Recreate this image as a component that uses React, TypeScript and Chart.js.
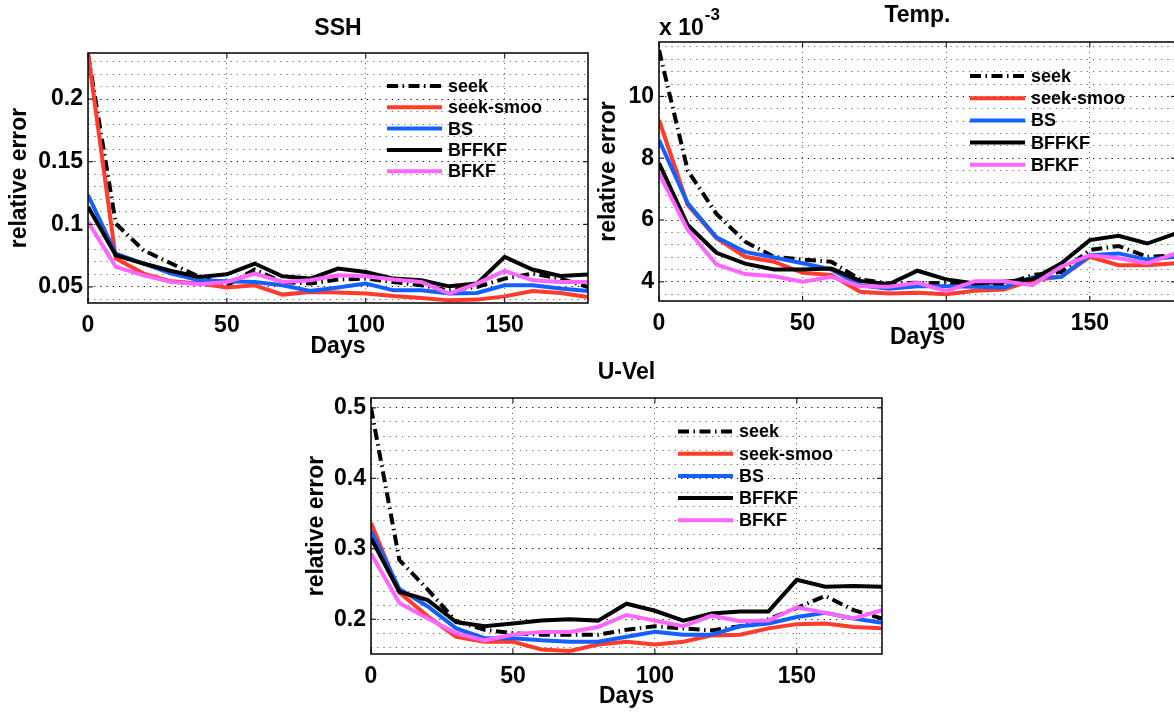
import React, { useEffect, useRef } from 'react';
import { Chart, registerables } from 'chart.js';

Chart.register(...registerables);

// ---------------- data ----------------
const DAYS = [0, 10, 20, 30, 40, 50, 60, 70, 80, 90, 100, 110, 120, 130, 140, 150, 160, 170, 180];
const SERIES_NAMES = ['seek', 'seek-smoo', 'BS', 'BFFKF', 'BFKF'];

const SSH_SEEK = [0.236, 0.1006, 0.0793, 0.0687, 0.058, 0.0513, 0.0639, 0.054, 0.0527, 0.0559, 0.0567, 0.054, 0.0513, 0.0473, 0.05, 0.0567, 0.0607, 0.0567, 0.05];
const SSH_SMOO = [0.2365, 0.0727, 0.0607, 0.0545, 0.0527, 0.0495, 0.0513, 0.0439, 0.046, 0.0455, 0.0447, 0.0427, 0.0412, 0.0393, 0.0399, 0.0425, 0.0468, 0.0452, 0.042];
const SSH_BS = [0.1233, 0.0766, 0.0687, 0.0607, 0.0553, 0.0545, 0.054, 0.0513, 0.0468, 0.0495, 0.0527, 0.0473, 0.0473, 0.0447, 0.0452, 0.0513, 0.0513, 0.0487, 0.0468];
const SSH_BFFKF = [0.114, 0.0753, 0.0687, 0.0628, 0.058, 0.0601, 0.0687, 0.0585, 0.0567, 0.0647, 0.062, 0.0567, 0.0553, 0.0505, 0.0527, 0.074, 0.0639, 0.0588, 0.0599];
const SSH_BFKF = [0.102, 0.066, 0.0593, 0.054, 0.0521, 0.054, 0.0607, 0.054, 0.0553, 0.0593, 0.0585, 0.0559, 0.054, 0.0447, 0.0527, 0.0628, 0.0553, 0.054, 0.054];

// Temp. values in units of 10^-3
const TEMP_SEEK = [11.5, 7.6, 6.2, 5.3, 4.81, 4.72, 4.65, 4.08, 3.95, 3.97, 3.95, 3.9, 3.9, 4.22, 4.32, 5.03, 5.16, 4.81, 4.86];
const TEMP_SMOO = [9.24, 6.49, 5.41, 4.81, 4.65, 4.29, 4.22, 3.68, 3.62, 3.65, 3.6, 3.71, 3.75, 4.05, 4.16, 4.81, 4.54, 4.54, 4.6];
const TEMP_BS = [8.59, 6.54, 5.44, 4.97, 4.79, 4.6, 4.4, 3.89, 3.78, 3.86, 3.86, 3.84, 3.82, 4.14, 4.16, 4.86, 4.92, 4.72, 4.81];
const TEMP_BFFKF = [7.84, 5.84, 4.94, 4.59, 4.4, 4.4, 4.43, 4.03, 3.92, 4.36, 4.08, 3.95, 4.0, 4.08, 4.59, 5.35, 5.49, 5.24, 5.57];
const TEMP_BFKF = [7.51, 5.68, 4.56, 4.25, 4.18, 4.0, 4.16, 3.86, 3.84, 3.97, 3.7, 4.02, 4.02, 3.89, 4.49, 4.86, 4.76, 4.6, 4.92];

const UVEL_SEEK = [0.5, 0.284, 0.242, 0.197, 0.185, 0.18, 0.178, 0.178, 0.178, 0.185, 0.19, 0.187, 0.184, 0.19, 0.2, 0.216, 0.233, 0.213, 0.201];
const UVEL_SMOO = [0.337, 0.238, 0.204, 0.175, 0.168, 0.168, 0.157, 0.155, 0.164, 0.168, 0.164, 0.168, 0.177, 0.178, 0.187, 0.193, 0.194, 0.189, 0.187];
const UVEL_BS = [0.325, 0.243, 0.218, 0.187, 0.173, 0.173, 0.17, 0.168, 0.168, 0.175, 0.182, 0.178, 0.178, 0.19, 0.194, 0.203, 0.209, 0.201, 0.195];
const UVEL_BFFKF = [0.315, 0.239, 0.227, 0.196, 0.19, 0.194, 0.198, 0.2, 0.198, 0.222, 0.212, 0.198, 0.208, 0.211, 0.211, 0.256, 0.246, 0.247, 0.246];
const UVEL_BFKF = [0.293, 0.223, 0.201, 0.18, 0.17, 0.178, 0.182, 0.182, 0.189, 0.206, 0.198, 0.19, 0.205, 0.197, 0.198, 0.217, 0.209, 0.201, 0.213];

const X_TICKS = [0, 50, 100, 150];
const X_TICK_LABELS = ['0', '50', '100', '150'];
const SSH_Y_TICKS = [0.05, 0.1, 0.15, 0.2];
const SSH_Y_LABELS = ['0.05', '0.1', '0.15', '0.2'];
const TEMP_Y_TICKS = [4, 6, 8, 10];
const TEMP_Y_LABELS = ['4', '6', '8', '10'];
const UVEL_Y_TICKS = [0.2, 0.3, 0.4, 0.5];
const UVEL_Y_LABELS = ['0.2', '0.3', '0.4', '0.5'];

// ---------------- styles ----------------
const FONT = "'Liberation Sans', Arial, Helvetica, sans-serif";
const SERIES_STYLE = [
  { color: '#000000', dash: [11, 4.5, 1.5, 4.5] },
  { color: '#ff3b2b', dash: [] },
  { color: '#1460ff', dash: [] },
  { color: '#000000', dash: [] },
  { color: '#ff66ff', dash: [] },
];

type Panel = {
  title: string;
  exponent?: string;
  box: { left: number; top: number; width: number; height: number };
  pad: { left: number; top: number; right: number; bottom: number };
  yAxisWidth: number;
  xAxisHeight: number;
  yMin: number;
  yMax: number;
  yStep: number;
  yTicks: number[];
  yLabels: string[];
  series: number[][];
  yTitlePad: number;
  xTitlePad: number;
  titleGap: number;
  legend: { x: number; y: number; gap: number };
};

const PANELS: Panel[] = [
  {
    title: 'SSH',
    box: { left: 0, top: 0, width: 600, height: 370 },
    pad: { left: 0, top: 53, right: 12, bottom: 7 },
    yAxisWidth: 88,
    xAxisHeight: 60,
    yMin: 0.0372,
    yMax: 0.2368,
    yStep: 0.01,
    yTicks: SSH_Y_TICKS,
    yLabels: SSH_Y_LABELS,
    series: [SSH_SEEK, SSH_SMOO, SSH_BS, SSH_BFFKF, SSH_BFKF],
    yTitlePad: 6,
    xTitlePad: 3,
    titleGap: 18,
    legend: { x: 299, y: 33, gap: 21.3 },
  },
  {
    title: 'Temp.',
    exponent: '-3',
    box: { left: 590, top: 0, width: 600, height: 370 },
    pad: { left: 0, top: 42, right: 14, bottom: 9 },
    yAxisWidth: 69,
    xAxisHeight: 60,
    yMin: 3.38,
    yMax: 11.76,
    yStep: 0.4,
    yTicks: TEMP_Y_TICKS,
    yLabels: TEMP_Y_LABELS,
    series: [TEMP_SEEK, TEMP_SMOO, TEMP_BS, TEMP_BFFKF, TEMP_BFKF],
    yTitlePad: 5,
    xTitlePad: 10,
    titleGap: 20,
    legend: { x: 311, y: 34, gap: 22.2 },
  },
  {
    title: 'U-Vel',
    box: { left: 300, top: 360, width: 600, height: 360 },
    pad: { left: 0, top: 38, right: 18, bottom: 6 },
    yAxisWidth: 71,
    xAxisHeight: 60,
    yMin: 0.1506,
    yMax: 0.514,
    yStep: 0.02,
    yTicks: UVEL_Y_TICKS,
    yLabels: UVEL_Y_LABELS,
    series: [UVEL_SEEK, UVEL_SMOO, UVEL_BS, UVEL_BFFKF, UVEL_BFKF],
    yTitlePad: 3,
    xTitlePad: 3.5,
    titleGap: 19,
    legend: { x: 307, y: 33.5, gap: 22.2 },
  },
];

const isMajor = (v: number, list: number[]) => list.findIndex((t) => Math.abs(v - t) < 1e-6);

const framePlugin = {
  id: 'matlabFrame',
  afterDatasetsDraw(chart: any, _args: any, opts: any) {
    const { ctx, chartArea: a, scales } = chart;
    ctx.save();
    ctx.setLineDash([]);

    // legend (inside axes, no box)
    chart.data.datasets.forEach((ds: any, i: number) => {
      const y = a.top + opts.legend.y + i * opts.legend.gap;
      const x0 = a.left + opts.legend.x;
      ctx.beginPath();
      ctx.strokeStyle = ds.borderColor;
      ctx.lineWidth = ds.borderWidth;
      ctx.setLineDash(ds.borderDash || []);
      ctx.moveTo(x0, y);
      ctx.lineTo(x0 + 55, y);
      ctx.stroke();
      ctx.setLineDash([]);
      ctx.fillStyle = '#000';
      ctx.font = `bold 18px ${FONT}`;
      ctx.textAlign = 'left';
      ctx.textBaseline = 'middle';
      ctx.fillText(ds.label, x0 + 61, y + 1);
    });

    // box
    ctx.strokeStyle = '#000';
    ctx.lineWidth = 1.5;
    ctx.strokeRect(a.left, a.top, a.right - a.left, a.bottom - a.top);

    // inward tick marks
    const tl = 5;
    ctx.lineWidth = 1;
    ctx.beginPath();
    X_TICKS.forEach((v) => {
      const px = scales.x.getPixelForValue(v);
      ctx.moveTo(px, a.bottom);
      ctx.lineTo(px, a.bottom - tl);
      ctx.moveTo(px, a.top);
      ctx.lineTo(px, a.top + tl);
    });
    opts.yTicks.forEach((v: number) => {
      const py = scales.y.getPixelForValue(v);
      ctx.moveTo(a.left, py);
      ctx.lineTo(a.left + tl, py);
      ctx.moveTo(a.right, py);
      ctx.lineTo(a.right - tl, py);
    });
    ctx.stroke();

    // title
    ctx.fillStyle = '#000';
    ctx.font = `bold 23px ${FONT}`;
    ctx.textAlign = 'center';
    ctx.textBaseline = 'alphabetic';
    ctx.fillText(opts.title, (a.left + a.right) / 2, a.top - opts.titleGap);

    // exponent label
    if (opts.exponent) {
      ctx.textAlign = 'left';
      const base = 'x 10';
      ctx.fillText(base, a.left, a.top - 7);
      const w = ctx.measureText(base).width;
      ctx.font = `bold 17px ${FONT}`;
      ctx.fillText(opts.exponent, a.left + w + 1, a.top - 22);
    }
    ctx.restore();
  },
};

function makeConfig(p: Panel): any {
  return {
    type: 'line',
    data: {
      datasets: p.series.map((vals, i) => ({
        label: SERIES_NAMES[i],
        data: DAYS.map((d, j) => ({ x: d, y: vals[j] })),
        borderColor: SERIES_STYLE[i].color,
        borderDash: SERIES_STYLE[i].dash,
        borderWidth: 4,
        borderCapStyle: 'butt',
        borderJoinStyle: 'miter',
        pointRadius: 0,
        tension: 0,
        fill: false,
        order: SERIES_NAMES.length - 1 - i,
      })),
    },
    options: {
      animation: false,
      responsive: false,
      maintainAspectRatio: false,
      layout: { padding: p.pad },
      plugins: {
        legend: { display: false },
        tooltip: { enabled: false },
        title: { display: false },
        matlabFrame: {
          title: p.title,
          exponent: p.exponent,
          yTicks: p.yTicks,
          legend: p.legend,
          titleGap: p.titleGap,
        },
      },
      scales: {
        x: {
          type: 'linear',
          min: 0,
          max: 180,
          afterFit: (s: any) => {
            s.height = p.xAxisHeight;
          },
          ticks: {
            stepSize: 50,
            includeBounds: false,
            autoSkip: false,
            maxRotation: 0,
            padding: 9,
            color: '#000',
            font: { family: FONT, size: 23, weight: 'bold' },
            callback: (v: number) => {
              const k = isMajor(v, X_TICKS);
              return k >= 0 ? X_TICK_LABELS[k] : '';
            },
          },
          grid: { color: '#666', lineWidth: 1, drawTicks: false },
          border: { display: false, dash: [1, 4] },
          title: {
            display: true,
            text: 'Days',
            color: '#000',
            font: { family: FONT, size: 23, weight: 'bold' },
            padding: { top: 0, bottom: p.xTitlePad },
          },
        },
        y: {
          type: 'linear',
          min: p.yMin,
          max: p.yMax,
          afterFit: (s: any) => {
            s.width = p.yAxisWidth;
          },
          ticks: {
            stepSize: p.yStep,
            includeBounds: false,
            autoSkip: false,
            padding: 5,
            color: '#000',
            font: { family: FONT, size: 23, weight: 'bold' },
            callback: (v: number) => {
              const k = isMajor(v, p.yTicks);
              return k >= 0 ? p.yLabels[k] : '';
            },
          },
          grid: {
            lineWidth: 1,
            drawTicks: false,
            color: (ctx: any) => (ctx.tick && isMajor(ctx.tick.value, p.yTicks) >= 0 ? '#000' : '#666'),
          },
          border: { display: false, dash: [1.2, 5] },
          title: {
            display: true,
            text: 'relative error',
            color: '#000',
            font: { family: FONT, size: 23, weight: 'bold' },
            padding: { top: p.yTitlePad, bottom: 0 },
          },
        },
      },
    },
    plugins: [framePlugin],
  };
}

function PanelChart({ panel }: { panel: Panel }) {
  const ref = useRef<HTMLCanvasElement | null>(null);
  useEffect(() => {
    if (!ref.current) return;
    const chart = new Chart(ref.current, makeConfig(panel));
    return () => chart.destroy();
  }, [panel]);
  return (
    <canvas
      ref={ref}
      width={panel.box.width}
      height={panel.box.height}
      style={{
        position: 'absolute',
        left: panel.box.left,
        top: panel.box.top,
        width: panel.box.width,
        height: panel.box.height,
      }}
    />
  );
}

export default function App() {
  return (
    <div
      style={{
        position: 'fixed',
        left: 0,
        top: 0,
        width: 1174,
        height: 713,
        overflow: 'hidden',
        background: '#fff',
      }}
    >
      {PANELS.map((p) => (
        <PanelChart key={p.title} panel={p} />
      ))}
    </div>
  );
}
